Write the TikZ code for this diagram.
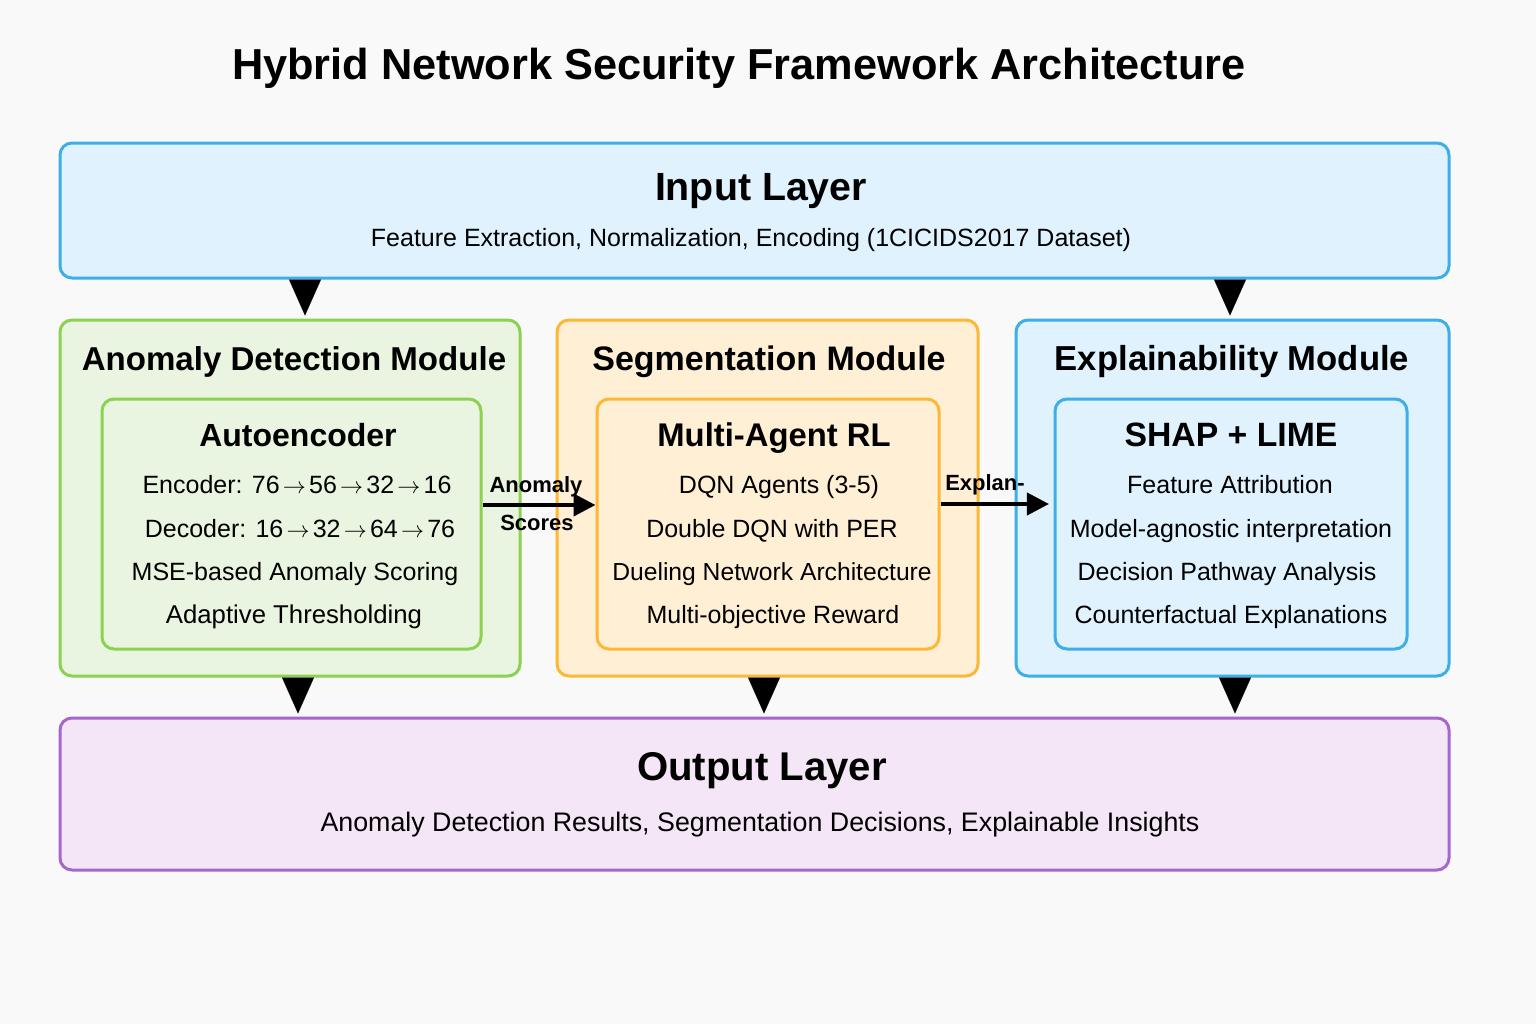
\documentclass[tikz,border=0pt]{standalone}
\usepackage{fontspec}
\setmainfont{Liberation Sans}
\usetikzlibrary{arrows.meta}
\definecolor{bgc}{HTML}{F9F9F9}
\definecolor{blueB}{HTML}{3DAEE9}
\definecolor{blueF}{HTML}{DFF2FD}
\definecolor{greenB}{HTML}{8DD150}
\definecolor{greenF}{HTML}{E9F5E0}
\definecolor{orangeB}{HTML}{FDB735}
\definecolor{orangeF}{HTML}{FFF0D5}
\definecolor{purpleB}{HTML}{A566CE}
\definecolor{purpleF}{HTML}{F4E6F6}
\newcommand{\ar}{\ensuremath{\mkern2.5mu\rightarrow\mkern2.5mu}}
\tikzset{
  box/.style={draw, line width=2.25pt, rounded corners=9pt, inner sep=0pt},
  txt/.style={anchor=base, inner sep=0pt},
  ttl/.style={txt, font=\fontsize{32.5}{39}\selectfont\bfseries},
  layerttl/.style={txt, font=\fontsize{29.5}{35}\selectfont\bfseries},
  modttl/.style={txt, font=\fontsize{24.8}{30}\selectfont\bfseries},
  innerttl/.style={txt, font=\fontsize{24}{29}\selectfont\bfseries},
  body/.style={txt, font=\fontsize{18.75}{22}\selectfont},
  lbl/.style={txt, font=\fontsize{16.5}{19}\selectfont\bfseries},
  tri/.style={line width=0.1pt, -{Triangle[length=27pt,width=24pt]}, shorten >=2.25pt},
  harrow/.style={line width=3pt, -{Triangle[length=16.5pt,width=16.5pt]}},
}
\begin{document}
\begin{tikzpicture}[x=0.75pt,y=-0.75pt]
\useasboundingbox (0,0) rectangle (1536,1024);
\fill[bgc] (0,0) rectangle (1536,1024);

\node[ttl] (title) at (739,80) {Hybrid Network Security Framework Architecture};

% boxes
\node[box, draw=blueB, fill=blueF, minimum width=1389*0.75pt, minimum height=135*0.75pt] (in) at (754.5,210.5) {};
\node[box, draw=greenB, fill=greenF, minimum width=460*0.75pt, minimum height=356*0.75pt] (ad) at (290,498) {};
\node[box, draw=greenB, fill=greenF, minimum width=379*0.75pt, minimum height=250*0.75pt] (adI) at (291.5,524) {};
\node[box, draw=orangeB, fill=orangeF, minimum width=421*0.75pt, minimum height=356*0.75pt] (sg) at (767.5,498) {};
\node[box, draw=orangeB, fill=orangeF, minimum width=342*0.75pt, minimum height=250*0.75pt] (sgI) at (768,524) {};
\node[box, draw=blueB, fill=blueF, minimum width=433*0.75pt, minimum height=356*0.75pt] (ex) at (1232.5,498) {};
\node[box, draw=blueB, fill=blueF, minimum width=352*0.75pt, minimum height=250*0.75pt] (exI) at (1231,524) {};
\node[box, draw=purpleB, fill=purpleF, minimum width=1389*0.75pt, minimum height=152*0.75pt] (out) at (754.5,794) {};

% input layer text
\node[layerttl] (inT) at (761,200) {Input Layer};
\node[body] (inS) at (751,246) {Feature Extraction, Normalization, Encoding (1CICIDS2017 Dataset)};

% anomaly module
\node[modttl] (adT) at (294,370) {Anomaly Detection Module};
\node[innerttl] (adIT) at (298,446.5) {Autoencoder};
\node[body] (ad1) at (297,493) {Encoder: 76\ar56\ar32\ar16};
\node[body] (ad2) at (300,537) {Decoder: 16\ar32\ar64\ar76};
\node[body] (ad3) at (295,580) {MSE-based Anomaly Scoring};
\node[body, font=\fontsize{19.3}{22}\selectfont] (ad4) at (294,623) {Adaptive Thresholding};

% segmentation module
\node[modttl, font=\fontsize{25.5}{30}\selectfont\bfseries] (sgT) at (769,370) {Segmentation Module};
\node[innerttl, font=\fontsize{24.6}{29}\selectfont\bfseries] (sgIT) at (774,446.5) {Multi-Agent RL};
\node[body] (sg1) at (779,493) {DQN Agents (3-5)};
\node[body] (sg2) at (772,537) {Double DQN with PER};
\node[body, font=\fontsize{18.5}{22}\selectfont] (sg3) at (772,580) {Dueling Network Architecture};
\node[body] (sg4) at (773,623) {Multi-objective Reward};

% explainability module
\node[modttl, font=\fontsize{26}{30}\selectfont\bfseries] (exT) at (1232,370) {Explainability Module};
\node[innerttl, font=\fontsize{25.3}{29}\selectfont\bfseries] (exIT) at (1231,446.5) {SHAP + LIME};
\node[body] (ex1) at (1230,493) {Feature Attribution};
\node[body] (ex2) at (1231,537) {Model-agnostic interpretation};
\node[body] (ex3) at (1227,580) {Decision Pathway Analysis};
\node[body] (ex4) at (1231,623) {Counterfactual Explanations};

% output layer
\node[layerttl, font=\fontsize{30.1}{35}\selectfont\bfseries] (outT) at (762,780) {Output Layer};
\node[body, font=\fontsize{20.1}{24}\selectfont] (outS) at (760,831) {Anomaly Detection Results, Segmentation Decisions, Explainable Insights};

% down triangles
\coordinate (t1) at (305,0);
\coordinate (t2) at (1230,0);
\coordinate (b1) at (298,0);
\coordinate (b2) at (764,0);
\coordinate (b3) at (1235,0);
\draw[tri] (in.south -| t1) -- (ad.north -| t1);
\draw[tri] (in.south -| t2) -- (ex.north -| t2);
\draw[tri] (ad.south -| b1) -- (out.north -| b1);
\draw[tri] (sg.south -| b2) -- (out.north -| b2);
\draw[tri] (ex.south -| b3) -- (out.north -| b3);

% horizontal arrows
\coordinate (r1) at (0,505);
\coordinate (r2) at (0,504);
\draw[harrow] (adI.east |- r1) -- (sgI.west |- r1);
\draw[harrow, shorten >=3.4pt] (sgI.east |- r2) -- (exI.west |- r2);
\node[lbl] (l1) at (536,492) {Anomaly};
\node[lbl] (l2) at (537,530) {Scores};
\node[lbl] (l3) at (985,490) {Explan-};
\end{tikzpicture}
\end{document}
